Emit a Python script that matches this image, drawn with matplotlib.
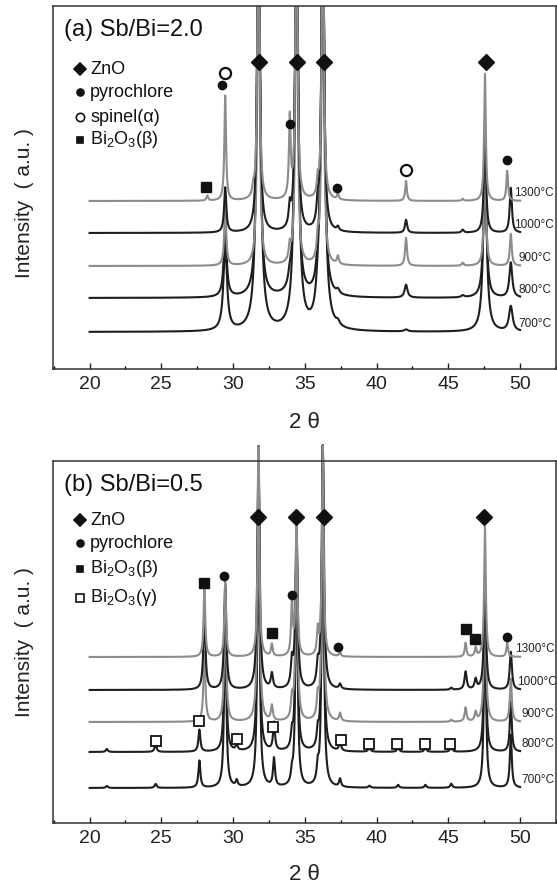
import numpy as np
import matplotlib.pyplot as plt
from matplotlib.ticker import MultipleLocator

plt.rcParams['font.family'] = ['Liberation Sans', 'DejaVu Sans']
plt.rcParams['mathtext.fontset'] = 'custom'
plt.rcParams['mathtext.rm'] = 'Liberation Sans'

temps = ["1300°C", "1000°C", "900°C", "800°C", "700°C"]
trace_colors = ["#8c8c8c", "#1e1e1e", "#8c8c8c", "#1e1e1e", "#1e1e1e"]

# (a) Sb/Bi=2.0 : offsets and peak table (positions in 2theta, heights in plot units)
base_a = [168, 136, 103, 71, 37]
width_a = [0.07, 0.09, 0.08, 0.12, 0.15]
pos_a = [28.2, 29.45, 31.4, 31.77, 33.95, 34.42, 35.9, 36.25, 37.3, 42.05, 46.0, 47.55, 49.1, 49.35]
height_a = [
    [5, 105, 8, 400, 80, 400, 15, 400, 6, 20, 2, 127, 30, 0],
    [0, 45, 0, 400, 20, 400, 20, 400, 4, 13, 3, 100, 0, 45],
    [0, 60, 0, 400, 15, 400, 20, 400, 8, 28, 3, 120, 0, 32],
    [0, 70, 0, 400, 10, 400, 18, 400, 4, 13, 2, 140, 0, 35],
    [0, 85, 0, 400, 0, 400, 15, 400, 4, 2, 0, 160, 0, 25],
]
zno_a_x = [31.77, 34.45, 36.3, 47.6]
zno_a_y = [307, 307, 307, 307]
pyro_a_x = [29.2, 33.95, 37.25, 49.08]
pyro_a_y = [284, 245, 181, 209]
spinel_a_x = [29.46, 42.03]
spinel_a_y = [296, 199]
beta_a_x = [28.14]
beta_a_y = [182]

# (b) Sb/Bi=0.5
base_b = [166, 133, 101, 71, 35]
width_b = [0.07, 0.09, 0.08, 0.08, 0.08]
pos_b = [21.2, 24.6, 27.65, 28.0, 29.45, 30.25, 31.77, 32.7, 32.85, 34.1, 34.42, 35.9,
         36.25, 37.45, 39.5, 41.5, 43.4, 45.2, 46.2, 46.9, 47.55, 49.1, 49.35]
height_b = [
    [0, 0, 0, 70, 75, 0, 210, 12, 0, 55, 130, 25, 210, 4, 0, 0, 0, 0, 14, 9, 130, 14, 0],
    [0, 0, 0, 75, 105, 0, 243, 15, 0, 25, 163, 20, 243, 5, 0, 0, 0, 2, 18, 10, 105, 0, 38],
    [0, 0, 0, 70, 127, 0, 275, 15, 0, 20, 195, 20, 275, 8, 0, 0, 0, 2, 14, 9, 147, 0, 43],
    [3, 8, 22, 0, 164, 6, 305, 0, 28, 15, 225, 15, 305, 10, 5, 5, 5, 6, 0, 0, 162, 0, 50],
    [2, 4, 27, 0, 190, 6, 341, 0, 28, 10, 261, 15, 341, 8, 2, 3, 3, 4, 0, 0, 190, 0, 53],
]
zno_b_x = [31.75, 34.4, 36.3, 47.5]
zno_b_y = [306, 306, 306, 306]
pyro_b_x = [29.4, 34.09, 37.3, 49.1]
pyro_b_y = [247, 228, 176, 186]
beta_b_x = [28.0, 32.68, 46.25, 46.85]
beta_b_y = [240, 190, 194, 184]
gamma_b_x = [27.64, 32.76, 24.6, 30.3, 37.49, 39.46, 41.43, 43.35, 45.12]
gamma_b_y = [102, 96, 82, 84, 83, 79, 79, 79, 79]

tt = np.linspace(20, 50, 3001)


def pattern(base, pos, heights, w):
    y = np.full_like(tt, float(base))
    for p, h in zip(pos, heights):
        if h:
            y += h / (1 + ((tt - p) / w) ** 2)
    return y


def setup(ax, title, ytop):
    ax.set_xlim(17.45, 52.5)
    ax.set_ylim(0, ytop)
    ax.set_yticks([])
    ax.xaxis.set_major_locator(MultipleLocator(5))
    ax.xaxis.set_minor_locator(MultipleLocator(2.5))
    ax.tick_params(axis='x', which='major', direction='in', length=4, width=1,
                   labelsize=14, pad=5, colors='#222222')
    ax.tick_params(axis='x', which='minor', direction='in', length=2, width=1)
    for s in ax.spines.values():
        s.set_linewidth(1.1)
        s.set_color('#333333')
    ax.text(0.022, 0.934, title, transform=ax.transAxes, fontsize=17,
            va='center', ha='left', color='#111111')


def legend(ax, rows, ys):
    for (mk, ms, fc, label), y in zip(rows, ys):
        ax.plot([0.054], [y], marker=mk, ms=ms, mfc=fc, mec='#111111', mew=1.2,
                transform=ax.transAxes, clip_on=False)
        ax.text(0.074, y, label, transform=ax.transAxes, fontsize=13,
                va='center', ha='left', color='#111111')


fig = plt.figure(figsize=(5.57, 8.91), dpi=100)
ax_a = fig.add_axes([53 / 557, 1 - 369 / 891, 503 / 557, 363 / 891])
ax_b = fig.add_axes([53 / 557, 1 - 823 / 891, 503 / 557, 362 / 891])

# panel (a)
setup(ax_a, "(a) Sb/Bi=2.0", 363)
for i in range(len(temps) - 1, -1, -1):
    ax_a.plot(tt, pattern(base_a[i], pos_a, height_a[i], width_a[i]),
              color=trace_colors[i], lw=1.5)
lab_xa = [49.55, 49.6, 49.9, 49.9, 49.9]
for i, t in enumerate(temps):
    ax_a.text(lab_xa[i], base_a[i] + 8, t, fontsize=8.5, color='#222222',
              ha='left', va='center')
ax_a.plot(zno_a_x, zno_a_y, 'D', ms=8, color='#111111', ls='none')
ax_a.plot(pyro_a_x, pyro_a_y, 'o', ms=6, color='#111111', ls='none')
ax_a.plot(spinel_a_x, spinel_a_y, 'o', ms=8, mfc='white', mec='#111111', mew=1.6, ls='none')
ax_a.plot(beta_a_x, beta_a_y, 's', ms=7, color='#111111', ls='none')
legend(ax_a, [('D', 6, '#111111', "ZnO"),
              ('o', 5, '#111111', "pyrochlore"),
              ('o', 6, 'white', "spinel(α)"),
              ('s', 5, '#111111', "Bi$_\\mathregular{2}$O$_\\mathregular{3}$(β)")],
       [0.826, 0.763, 0.694, 0.631])

# panel (b)
setup(ax_b, "(b) Sb/Bi=0.5", 362)
for i in range(len(temps) - 1, -1, -1):
    ax_b.plot(tt, pattern(base_b[i], pos_b, height_b[i], width_b[i]),
              color=trace_colors[i], lw=1.5, clip_on=False)
lab_xb = [49.65, 49.8, 50.1, 50.1, 50.1]
for i, t in enumerate(temps):
    ax_b.text(lab_xb[i], base_b[i] + 8, t, fontsize=8.5, color='#222222',
              ha='left', va='center')
ax_b.plot(zno_b_x, zno_b_y, 'D', ms=8, color='#111111', ls='none')
ax_b.plot(pyro_b_x, pyro_b_y, 'o', ms=6, color='#111111', ls='none')
ax_b.plot(beta_b_x, beta_b_y, 's', ms=7, color='#111111', ls='none')
ax_b.plot(gamma_b_x, gamma_b_y, 's', ms=7, mfc='white', mec='#111111', mew=1.3, ls='none')
legend(ax_b, [('D', 6, '#111111', "ZnO"),
              ('o', 5, '#111111', "pyrochlore"),
              ('s', 5, '#111111', "Bi$_\\mathregular{2}$O$_\\mathregular{3}$(β)"),
              ('s', 6, 'white', "Bi$_\\mathregular{2}$O$_\\mathregular{3}$(γ)")],
       [0.837, 0.773, 0.702, 0.622])

for yc in [1 - 203 / 891, 1 - 642 / 891]:
    fig.text(25 / 557, yc, "Intensity  ( a.u. )", rotation=90, fontsize=15,
             ha='center', va='center', color='#222222')
for yc in [1 - 423 / 891, 1 - 875 / 891]:
    fig.text(304 / 557, yc, "2 θ", fontsize=16, ha='center', va='center',
             color='#222222')

fig.savefig("out.png", dpi=100)
